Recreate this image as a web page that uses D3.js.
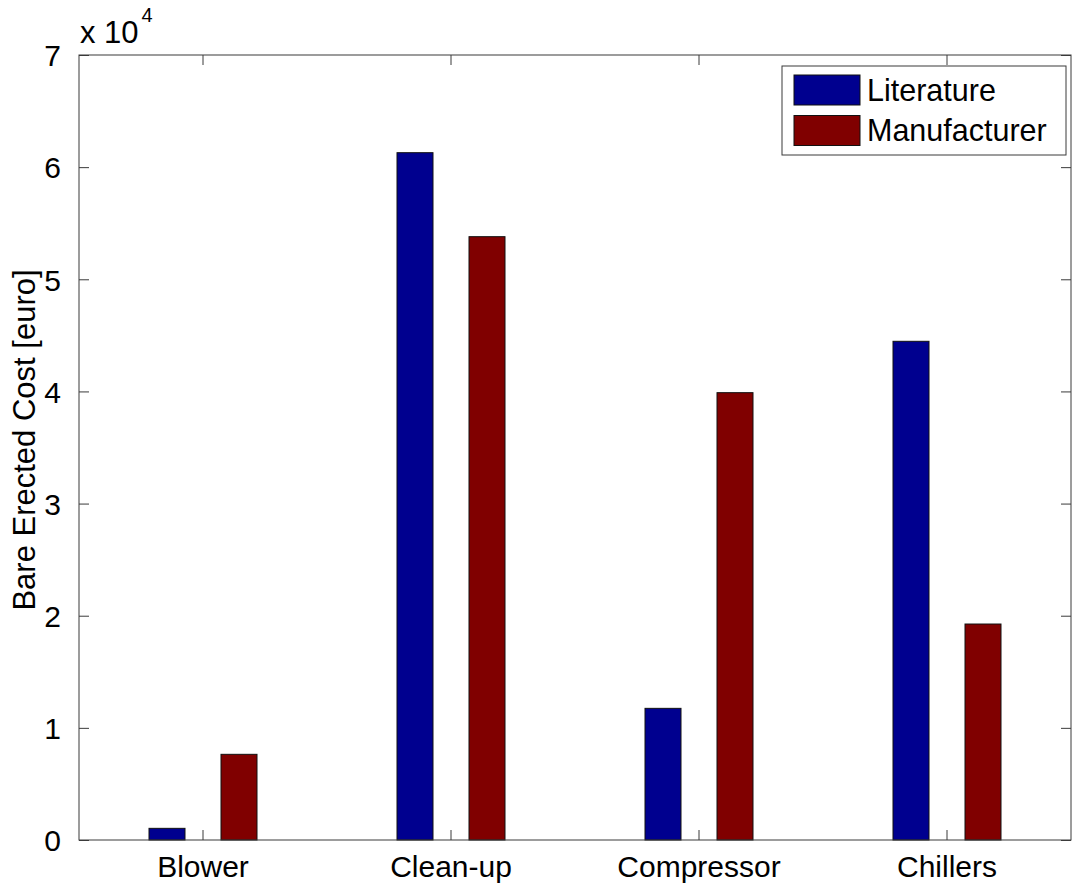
<!DOCTYPE html>
<html>
<head>
<meta charset="utf-8">
<script src="https://cdn.jsdelivr.net/npm/d3@7"></script>
<style>
  body { margin: 0; background: #fff; }
  text { font-family: "Liberation Sans", Arial, sans-serif; fill: #000; }
</style>
</head>
<body>
<div id="chart"></div>
<script>
// data
var categories = ["Blower", "Clean-up", "Compressor", "Chillers"];
var seriesNames = ["Literature", "Manufacturer"];
var literature = [1040, 61290, 11740, 44470];
var manufacturer = [7640, 53800, 39890, 19260];
var yTicks = [0, 10000, 20000, 30000, 40000, 50000, 60000, 70000];
var colors = ["#00008f", "#800000"];

var width = 1073, height = 884;
var margin = { top: 55, right: 2, bottom: 44, left: 79 };
var chartWidth = width - margin.left - margin.right;
var chartHeight = height - margin.top - margin.bottom;

var svg = d3
  .select("#chart")
  .append("svg")
  .attr("width", width)
  .attr("height", height);

var g = svg
  .append("g")
  .attr("transform", "translate(" + margin.left + "," + margin.top + ")");

var rows = categories.map(function(c, i) {
  return { name: c, values: [literature[i], manufacturer[i]] };
});

// scales
var xScale = d3.scaleBand().domain(categories).range([0, chartWidth]);
var half = xScale.bandwidth() / 2;
var xSub = d3
  .scaleBand()
  .domain(seriesNames)
  .range([half - 72, half + 72])
  .paddingInner(0.5)
  .paddingOuter(0.25);

var yScale = d3.scaleLinear().domain([0, 70000]).range([chartHeight, 0]);

var axisColor = "#3a3a3a";
var tickLen = 10;

// bars
var groups = g
  .selectAll(".group")
  .data(rows)
  .enter()
  .append("g")
  .attr("class", "group")
  .attr("transform", function(d) {
    return "translate(" + xScale(d.name) + ",0)";
  });

groups
  .selectAll("rect")
  .data(function(d) {
    return d.values.map(function(v, i) {
      return { series: seriesNames[i], value: v, idx: i };
    });
  })
  .enter()
  .append("rect")
  .attr("x", function(d) { return xSub(d.series); })
  .attr("width", xSub.bandwidth())
  .attr("y", function(d) { return yScale(d.value); })
  .attr("height", function(d) { return chartHeight - yScale(d.value); })
  .attr("fill", function(d) { return colors[d.idx]; })
  .attr("stroke", "#111")
  .attr("stroke-width", 1);

// axes, ticks pointing inward on all sides
function styleAxis(sel) {
  sel.select(".domain").remove();
  sel.selectAll("line").attr("stroke", axisColor);
}

var yAxis = d3
  .axisLeft(yScale)
  .tickValues(yTicks)
  .tickSizeInner(-tickLen)
  .tickSizeOuter(0)
  .tickPadding(8 + tickLen)
  .tickFormat(function(d) { return d / 10000; });

g.append("g")
  .attr("class", "y-axis")
  .call(yAxis)
  .call(styleAxis)
  .selectAll("text")
  .style("font-size", "30px")
  .attr("dy", "0.36em");

g.append("g")
  .attr("class", "y-axis-right")
  .attr("transform", "translate(" + chartWidth + ",0)")
  .call(d3.axisRight(yScale).tickValues(yTicks).tickSizeInner(-tickLen).tickSizeOuter(0).tickFormat(""))
  .call(styleAxis);

var xAxis = d3
  .axisBottom(xScale)
  .tickSizeInner(-tickLen)
  .tickSizeOuter(0)
  .tickPadding(tickLen + 6);

g.append("g")
  .attr("class", "x-axis")
  .attr("transform", "translate(0," + chartHeight + ")")
  .call(xAxis)
  .call(styleAxis)
  .selectAll("text")
  .style("font-size", "30px")
  .attr("dy", "0.71em");

g.append("g")
  .attr("class", "x-axis-top")
  .call(d3.axisTop(xScale).tickSizeInner(-tickLen).tickSizeOuter(0).tickFormat(""))
  .call(styleAxis);

// box
g.append("rect")
  .attr("width", chartWidth)
  .attr("height", chartHeight)
  .attr("fill", "none")
  .attr("stroke", axisColor)
  .attr("stroke-width", 1);

// exponent label
var expo = svg.append("text").attr("x", margin.left + 1).attr("y", 43).style("font-size", "31px");
expo.append("tspan").text("x 10");
expo.append("tspan").attr("dy", -21).attr("dx", 3).style("font-size", "20px").text("4");

// y label
svg
  .append("text")
  .text("Bare Erected Cost [euro]")
  .attr("transform", "translate(35," + 440 + ") rotate(-90)")
  .attr("text-anchor", "middle")
  .style("font-size", "31px");

// legend
var legend = g.append("g").attr("transform", "translate(" + (chartWidth - 289) + ",11)");
legend
  .append("rect")
  .attr("width", 284)
  .attr("height", 89)
  .attr("fill", "#fff")
  .attr("stroke", axisColor);

var items = legend
  .selectAll(".item")
  .data(seriesNames)
  .enter()
  .append("g")
  .attr("class", "item")
  .attr("transform", function(d, i) { return "translate(12," + (9 + i * 40.5) + ")"; });

items
  .append("rect")
  .attr("width", 66)
  .attr("height", 30)
  .attr("fill", function(d, i) { return colors[i]; })
  .attr("stroke", "#111");

items
  .append("text")
  .attr("x", 73)
  .attr("y", 15)
  .attr("dy", "0.36em")
  .style("font-size", "30.5px")
  .text(function(d) { return d; });
</script>
</body>
</html>
